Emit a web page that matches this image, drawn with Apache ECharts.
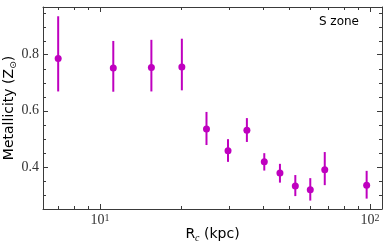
<!DOCTYPE html>
<html><head><meta charset="utf-8">
<script src="https://cdn.jsdelivr.net/npm/echarts@6/dist/echarts.min.js"></script>
<style>html,body{margin:0;padding:0;background:#fff}#c{width:390px;height:244px}</style>
</head><body><div id="c"></div>
<script>
const radius = [7.0, 11.2, 15.5, 20.1, 24.8, 29.8, 35.0, 40.6, 46.4, 52.9, 60.1, 68.0, 97.2];
const metallicity = [0.786, 0.753, 0.754, 0.756, 0.535, 0.458, 0.531, 0.418, 0.378, 0.332, 0.319, 0.390, 0.335];
const errLow = [0.669, 0.668, 0.669, 0.673, 0.478, 0.418, 0.489, 0.387, 0.344, 0.296, 0.280, 0.335, 0.287];
const errHigh = [0.937, 0.849, 0.853, 0.857, 0.596, 0.499, 0.574, 0.449, 0.411, 0.371, 0.360, 0.453, 0.386];
const yTickLabels = [0.4, 0.6, 0.8];
const yMinorTicks = [0.3, 0.35, 0.45, 0.5, 0.55, 0.65, 0.7, 0.75, 0.85, 0.9, 0.95];
const xMinorTicks = [7, 8, 9, 20, 30, 40, 50, 60, 70, 80, 90];
const xMajorTicks = [10, 100];

const X_MIN = 6.15, X_MAX = 110.8, Y_MIN = 0.25, Y_MAX = 0.97;
const COLOR = '#bf00bf';
const AX = '#3a3a3a';

const chart = echarts.init(document.getElementById('c'), null, {renderer: 'canvas'});

function supLabel(v) {
  const e = Math.round(Math.log10(v));
  if (Math.abs(Math.log10(v) - e) > 1e-6) return '';
  return '{b|10}{s|' + e + '}';
}

const baseX = {
  type: 'log', logBase: 10, min: X_MIN, max: X_MAX,
  axisLine: {show: true, lineStyle: {color: AX, width: 1}},
  axisTick: {show: true, inside: true, length: 5, lineStyle: {color: AX}},
  splitLine: {show: false}, minorTick: {show: false}
};
const baseY = {
  type: 'value', min: Y_MIN, max: Y_MAX,
  axisLine: {show: true, lineStyle: {color: AX, width: 1}},
  axisTick: {show: true, inside: true, length: 5, lineStyle: {color: AX}, customValues: yTickLabels},
  splitLine: {show: false}
};

const option = {
  animation: false,
  backgroundColor: '#fff',
  grid: {left: 43, right: 8, top: 7, bottom: 35, containLabel: false, outerBoundsMode: 'none'},
  xAxis: [
    Object.assign({}, baseX, {
      position: 'bottom',
      name: '{m|R}{sub|c}{m| (kpc)}', nameLocation: 'middle', nameGap: 17, nameMoveOverlap: false,
      nameTextStyle: {
        rich: {
          m: {fontFamily: 'DejaVu Sans', fontSize: 14, color: '#000', lineHeight: 17},
          sub: {fontFamily: 'Liberation Serif', fontStyle: 'italic', fontSize: 10, color: '#000', lineHeight: 17, verticalAlign: 'bottom'}
        }
      },
      axisLabel: {
        show: true, margin: 4, showMinLabel: false, showMaxLabel: false,
        formatter: supLabel,
        rich: {
          b: {fontFamily: 'Liberation Serif', fontSize: 14, color: '#333', lineHeight: 15},
          s: {fontFamily: 'Liberation Serif', fontSize: 10, color: '#333', lineHeight: 15, verticalAlign: 'top'}
        }
      }
    }),
    Object.assign({}, baseX, {position: 'top', axisLabel: {show: false}})
  ],
  yAxis: [
    Object.assign({}, baseY, {
      position: 'left',
      name: '{m|Metallicity (Z}{sub|⊙}{m|)}', nameLocation: 'middle', nameGap: 25, nameMoveOverlap: false,
      nameTextStyle: {
        rich: {
          m: {fontFamily: 'DejaVu Sans', fontSize: 14, color: '#000', lineHeight: 17},
          sub: {fontFamily: 'DejaVu Sans', fontSize: 9, color: '#000', lineHeight: 17, verticalAlign: 'bottom'}
        }
      },
      axisLabel: {
        show: true, margin: 4, customValues: yTickLabels,
        fontFamily: 'Liberation Serif', fontSize: 14, color: '#333',
        formatter: v => v.toFixed(1)
      }
    }),
    Object.assign({}, baseY, {position: 'right', axisLabel: {show: false}})
  ],
  graphic: [{
    type: 'text', right: 31, top: 16,
    style: {text: 'S zone', fontFamily: 'DejaVu Sans', fontSize: 12, fill: '#000'}
  }],
  series: [
    {
      type: 'custom', name: 'xminor', xAxisIndex: 0, yAxisIndex: 0, silent: true, clip: false,
      data: xMinorTicks.map(v => [v, Y_MIN]),
      renderItem: function (params, api) {
        const p = api.coord([api.value(0), Y_MIN]);
        const cs = params.coordSys;
        const x = Math.round(p[0]) + 0.5;
        const yb = cs.y + cs.height, yt = cs.y;
        const st = {stroke: AX, lineWidth: 1};
        return {type: 'group', children: [
          {type: 'line', shape: {x1: x, y1: yb, x2: x, y2: yb - 3}, style: st},
          {type: 'line', shape: {x1: x, y1: yt, x2: x, y2: yt + 3}, style: st}
        ]};
      }
    },
    {
      type: 'custom', name: 'yminor', xAxisIndex: 0, yAxisIndex: 0, silent: true, clip: false,
      data: yMinorTicks.map(v => [X_MIN, v]),
      renderItem: function (params, api) {
        const p = api.coord([X_MIN, api.value(1)]);
        const cs = params.coordSys;
        const y = Math.round(p[1]) + 0.5;
        const xl = cs.x, xr = cs.x + cs.width;
        const st = {stroke: AX, lineWidth: 1};
        return {type: 'group', children: [
          {type: 'line', shape: {x1: xl, y1: y, x2: xl + 3, y2: y}, style: st},
          {type: 'line', shape: {x1: xr, y1: y, x2: xr - 3, y2: y}, style: st}
        ]};
      }
    },
    {
      type: 'custom', name: 'errors', xAxisIndex: 0, yAxisIndex: 0, silent: true,
      data: radius.map((r, i) => [r, errLow[i], errHigh[i]]),
      renderItem: function (params, api) {
        const a = api.coord([api.value(0), api.value(1)]);
        const b = api.coord([api.value(0), api.value(2)]);
        return {type: 'line', shape: {x1: a[0], y1: a[1], x2: b[0], y2: b[1]},
          style: {stroke: COLOR, lineWidth: 2}};
      },
      z: 3
    },
    {
      type: 'scatter', name: 'S zone', xAxisIndex: 0, yAxisIndex: 0,
      data: radius.map((r, i) => [r, metallicity[i]]),
      symbol: 'circle', symbolSize: 7,
      itemStyle: {color: COLOR, opacity: 1},
      z: 4
    }
  ]
};
chart.setOption(option);
</script>
</body></html>
